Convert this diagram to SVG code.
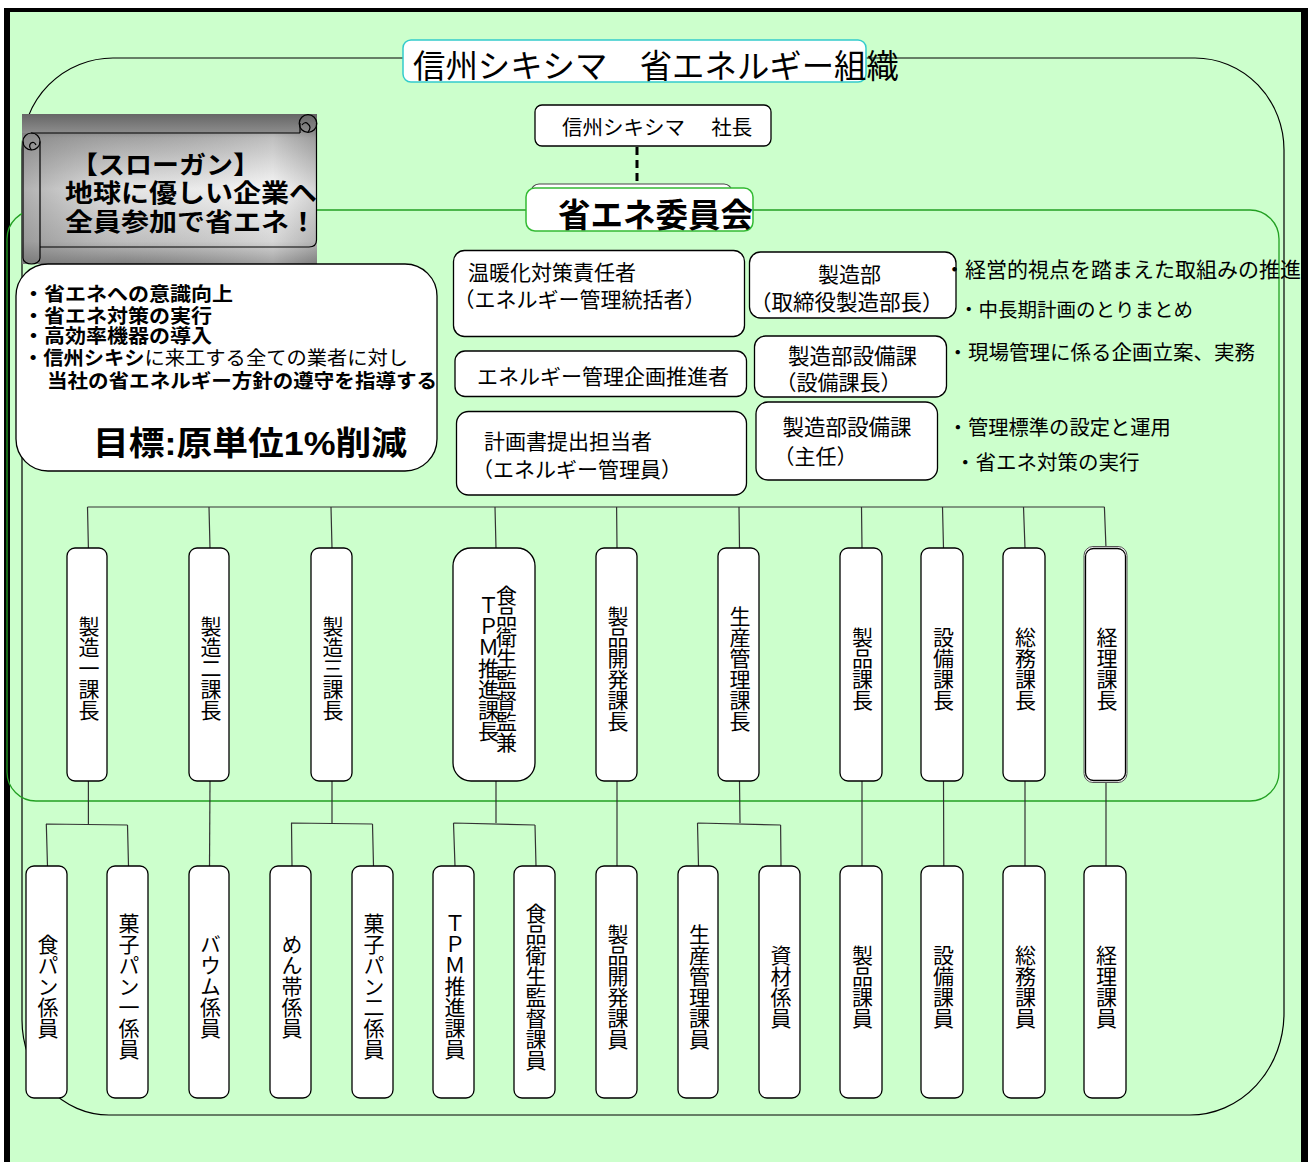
<svg xmlns="http://www.w3.org/2000/svg" width="1308" height="1162" viewBox="0 0 1308 1162">
<defs>
<style>
text{font-family:"Liberation Sans","Noto Sans CJK JP",sans-serif;fill:#000}
.b{font-weight:bold}
.bx{fill:#fff;stroke:#000;stroke-width:1.3}
.ln{stroke:#333;stroke-width:1.2;fill:none}
.vt{writing-mode:vertical-rl;text-anchor:middle;font-size:21px}
.t21{font-size:21px}
.tl{font-size:19.5px;font-weight:bold}
.sc{fill:none;stroke:#000;stroke-width:1.2}
</style>
<linearGradient id="gScroll" x1="0" y1="0" x2="0" y2="1">
<stop offset="0" stop-color="#666"/>
<stop offset="0.13" stop-color="#8e8e8e"/>
<stop offset="0.16" stop-color="#a4a4a4"/>
<stop offset="0.5" stop-color="#f4f4f4"/>
<stop offset="0.85" stop-color="#c4c4c4"/>
<stop offset="1" stop-color="#7a7a7a"/>
</linearGradient>
<linearGradient id="gScrollH" x1="0" y1="0" x2="1" y2="0">
<stop offset="0" stop-color="#777" stop-opacity="0.55"/>
<stop offset="0.35" stop-color="#999" stop-opacity="0.15"/>
<stop offset="0.85" stop-color="#fff" stop-opacity="0.3"/>
<stop offset="1" stop-color="#888" stop-opacity="0.3"/>
</linearGradient>
</defs>

<rect x="0" y="0" width="1308" height="1162" fill="#fff"/>
<rect x="10" y="12" width="1291" height="1150" fill="#CCFFCC"/>
<rect x="4" y="8" width="1304" height="4" fill="#000"/>
<rect x="4" y="8" width="6" height="1154" fill="#000"/>
<rect x="1301" y="8" width="7" height="1154" fill="#000"/>

<g id="frames">
<path d="M113,58 H1195 A89,92 0 0 1 1284,150 V1013 A94,102 0 0 1 1190,1115 H109 A87,95 0 0 1 22,1020 V150 A91,92 0 0 1 113,58 Z" fill="none" stroke="#000" stroke-width="1.2"/>
<rect x="7" y="210" width="1272" height="591" rx="29" ry="29" fill="none" stroke="#22A022" stroke-width="1.3"/>
</g>

<g id="connectors">
<line x1="637" y1="147" x2="637" y2="188" stroke="#000" stroke-width="3" stroke-dasharray="8,5"/>
<path class="ln" d="M87.5,507 H1104.5"/>
<path class="ln" d="M87.5,507 L88.4,548 M209,507 L210,548 M331,507 L332,548 M495,507 L496,548 M616.6,507 L617,548 M739,507 L739.5,548 M861.5,507 L862,548 M942.5,507 L943.5,548 M1023.5,507 L1025,548 M1104.4,507 L1106,548"/>
<path class="ln" d="M88.4,781 V824 M46,824 L127.5,825 M46.3,824 L47.5,866 M127.5,825 L128.5,866"/>
<path class="ln" d="M210,781 L209.5,866"/>
<path class="ln" d="M332,781 V823 M291,823 L372.5,824 M291.5,823 L292,866 M372.5,824 L373.5,866"/>
<path class="ln" d="M496,781 V823 M453.5,823 L535,825 M453.5,823 L455,866 M535,825 L536,866"/>
<path class="ln" d="M617,781 V866"/>
<path class="ln" d="M739.5,781 L740,823 M697.5,823 L780.6,825 M697.5,823 L698.5,866 M780.6,825 L781,866"/>
<path class="ln" d="M862,781 V866 M943.5,781 L943.8,866 M1025,781 V866 M1106,781 V866"/>
</g>

<g id="title">
<rect x="403" y="40" width="463" height="42" rx="8" fill="#fff" stroke="#33CCCC" stroke-width="1.5"/>
<text x="413" y="78" font-size="32.4">信州シキシマ　省エネルギー組織</text>
</g>

<g id="president">
<rect x="535" y="105" width="236" height="41" rx="7" class="bx"/>
<text x="562" y="135" font-size="20.5">信州シキシマ　 社長</text>
</g>

<g id="committee">
<rect x="531" y="184" width="201" height="40" rx="8" fill="#fff" stroke="#444" stroke-width="1.2"/>
<rect x="526" y="188" width="227" height="43" rx="9" fill="#fff" stroke="#33BB33" stroke-width="1.5"/>
<text x="558" y="227" font-size="32.5" class="b">省エネ委員会</text>
</g>

<g id="slogan">
<rect x="22" y="114" width="295" height="150" fill="url(#gScroll)"/>
<rect x="22" y="133" width="295" height="131" fill="url(#gScrollH)"/>
<path class="sc" d="M31,133 H300 M300,123 V133 M316.5,123 V240 Q316.5,247 309,247 H40"/>
<circle class="sc" cx="308" cy="123.5" r="8.8"/>
<path class="sc" d="M308,132 Q312,127 308,124 Q305,121 302,125"/>
<circle class="sc" cx="31.5" cy="141.5" r="8.5"/>
<path class="sc" d="M23,141.5 V258 A8.5,6 0 0 0 40,258 V141.5"/>
<path class="sc" d="M31.5,150 Q28,146 31,143 Q34,141 36,145"/>
<text x="71" y="174" font-size="25" class="b" textLength="189" lengthAdjust="spacingAndGlyphs">【スローガン】</text>
<text x="65" y="202" font-size="25" class="b" textLength="252" lengthAdjust="spacingAndGlyphs">地球に優しい企業へ</text>
<text x="65" y="231" font-size="25" class="b" textLength="252" lengthAdjust="spacingAndGlyphs">全員参加で省エネ！</text>
</g>

<g id="policy">
<rect x="16" y="264" width="421" height="207" rx="32" ry="32" class="bx"/>
<text x="23" y="301" class="tl" textLength="210" lengthAdjust="spacingAndGlyphs">・省エネへの意識向上</text>
<text x="23" y="323" class="tl" textLength="189" lengthAdjust="spacingAndGlyphs">・省エネ対策の実行</text>
<text x="23" y="343" class="tl" textLength="189" lengthAdjust="spacingAndGlyphs">・高効率機器の導入</text>
<text x="23" y="365" font-size="19.5" textLength="385" lengthAdjust="spacingAndGlyphs"><tspan class="b">・信州シキシ</tspan>に来工する全ての業者に対し</text>
<text x="47" y="388" class="tl" textLength="390" lengthAdjust="spacingAndGlyphs">当社の省エネルギー方針の遵守を指導する</text>
<text x="93" y="455" font-size="33" class="b" textLength="314" lengthAdjust="spacingAndGlyphs">目標:原単位1%削減</text>
</g>

<g id="warming-manager">
<rect x="453.5" y="250.5" width="291" height="86" rx="11" class="bx"/>
<text x="468" y="280" class="t21">温暖化対策責任者</text>
<text x="453.5" y="306.5" class="t21">（エネルギー管理統括者）</text>
</g>
<g id="energy-planner">
<rect x="455" y="351" width="291.5" height="45.5" rx="10" class="bx"/>
<text x="477" y="383.5" class="t21">エネルギー管理企画推進者</text>
</g>
<g id="plan-submitter">
<rect x="456.5" y="411.5" width="290" height="83.5" rx="12" class="bx"/>
<text x="484" y="448.5" class="t21">計画書提出担当者</text>
<text x="472" y="476.5" class="t21">（エネルギー管理員）</text>
</g>
<g id="mfg-dept">
<rect x="749.5" y="252" width="206.5" height="66" rx="11" class="bx"/>
<text x="849.5" y="281.5" class="t21" text-anchor="middle">製造部</text>
<text x="750" y="310" font-size="21.5">（取締役製造部長）</text>
</g>
<g id="facility-chief">
<rect x="754.5" y="336" width="192" height="61" rx="11" class="bx"/>
<text x="788" y="363.5" font-size="21.5">製造部設備課</text>
<text x="775.5" y="390" class="t21">（設備課長）</text>
</g>
<g id="facility-lead">
<rect x="756" y="402" width="181.5" height="78" rx="12" class="bx"/>
<text x="782.5" y="435" font-size="21.5">製造部設備課</text>
<text x="773.5" y="463.5" class="t21">（主任）</text>
</g>

<g id="notes">
<text x="944" y="276.5" class="t21">・経営的視点を踏まえた取組みの推進</text>
<text x="959" y="317" font-size="19.5">・中長期計画のとりまとめ</text>
<text x="947.5" y="360" font-size="20.5">・現場管理に係る企画立案、実務</text>
<text x="947.7" y="435" font-size="20.3">・管理標準の設定と運用</text>
<text x="955" y="470" font-size="20.5">・省エネ対策の実行</text>
</g>

<g id="mgr-1"><rect x="67" y="548" width="40" height="233" rx="8" class="bx"/><text class="vt" x="87.5" y="668.5">製造一課長</text></g>
<g id="mgr-2"><rect x="189" y="548" width="40" height="233" rx="8" class="bx"/><text class="vt" x="209.5" y="668.5">製造二課長</text></g>
<g id="mgr-3"><rect x="311" y="548" width="41" height="233" rx="8" class="bx"/><text class="vt" x="331.5" y="668.5">製造三課長</text></g>
<g id="mgr-4"><rect x="453" y="548" width="82" height="233" rx="18" class="bx"/><text class="vt" x="505" y="668.5" font-size="20.5">食品衛生監督監兼</text><text class="vt" x="487" y="668.5" font-size="20.5">ＴＰＭ推進課長</text></g>
<g id="mgr-5"><rect x="596" y="548" width="41" height="233" rx="8" class="bx"/><text class="vt" x="616.5" y="668.5">製品開発課長</text></g>
<g id="mgr-6"><rect x="718" y="548" width="41" height="233" rx="8" class="bx"/><text class="vt" x="738.5" y="668.5">生産管理課長</text></g>
<g id="mgr-7"><rect x="840" y="548" width="42" height="233" rx="8" class="bx"/><text class="vt" x="861" y="668.5">製品課長</text></g>
<g id="mgr-8"><rect x="921" y="548" width="42" height="233" rx="8" class="bx"/><text class="vt" x="942" y="668.5">設備課長</text></g>
<g id="mgr-9"><rect x="1003" y="548" width="42" height="233" rx="8" class="bx"/><text class="vt" x="1024" y="668.5">総務課長</text></g>
<g id="mgr-10"><rect x="1084" y="546.5" width="43" height="236" rx="9" fill="#fff" stroke="#555" stroke-width="1"/><rect x="1085.5" y="548.5" width="40" height="232" rx="8" class="bx"/><text class="vt" x="1105.5" y="668.5">経理課長</text></g>

<g id="staff-1"><rect x="26" y="866" width="41" height="232" rx="8" class="bx"/><text class="vt" x="46.5" y="986.5">食パン係員</text></g>
<g id="staff-2"><rect x="107" y="866" width="41" height="232" rx="8" class="bx"/><text class="vt" x="127.5" y="986.5">菓子パン一係員</text></g>
<g id="staff-3"><rect x="189" y="866" width="40" height="232" rx="8" class="bx"/><text class="vt" x="209" y="986.5">バウム係員</text></g>
<g id="staff-4"><rect x="270" y="866" width="41" height="232" rx="8" class="bx"/><text class="vt" x="290.5" y="986.5">めん帯係員</text></g>
<g id="staff-5"><rect x="352" y="866" width="41" height="232" rx="8" class="bx"/><text class="vt" x="372.5" y="986.5">菓子パン二係員</text></g>
<g id="staff-6"><rect x="433" y="866" width="41" height="232" rx="8" class="bx"/><text class="vt" x="453.5" y="986.5">ＴＰＭ推進課員</text></g>
<g id="staff-7"><rect x="514" y="866" width="41" height="232" rx="8" class="bx"/><text class="vt" x="534.5" y="986.5">食品衛生監督課員</text></g>
<g id="staff-8"><rect x="596" y="866" width="41" height="232" rx="8" class="bx"/><text class="vt" x="616.5" y="986.5">製品開発課員</text></g>
<g id="staff-9"><rect x="678" y="866" width="40" height="232" rx="8" class="bx"/><text class="vt" x="698" y="986.5">生産管理課員</text></g>
<g id="staff-10"><rect x="759" y="866" width="41" height="232" rx="8" class="bx"/><text class="vt" x="779.5" y="986.5">資材係員</text></g>
<g id="staff-11"><rect x="840" y="866" width="42" height="232" rx="8" class="bx"/><text class="vt" x="861" y="986.5">製品課員</text></g>
<g id="staff-12"><rect x="921" y="866" width="42" height="232" rx="8" class="bx"/><text class="vt" x="942" y="986.5">設備課員</text></g>
<g id="staff-13"><rect x="1003" y="866" width="42" height="232" rx="8" class="bx"/><text class="vt" x="1024" y="986.5">総務課員</text></g>
<g id="staff-14"><rect x="1084" y="866" width="42" height="232" rx="8" class="bx"/><text class="vt" x="1105" y="986.5">経理課員</text></g>
</svg>
